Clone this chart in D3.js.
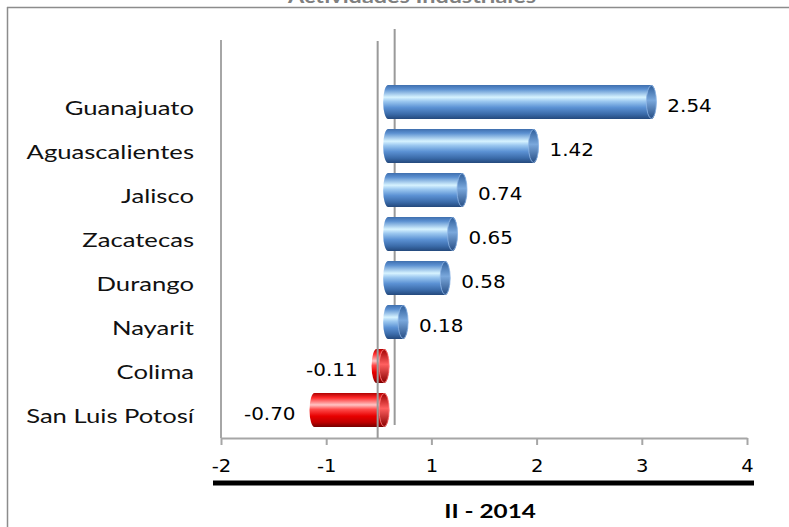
<!DOCTYPE html>
<html>
<head>
    <meta charset="utf-8">
    <script src="https://d3js.org/d3.v7.min.js"></script>
    <style>
        body {
            margin: 0;
            background: #ffffff;
        }
        .cat-label {
            font-family: 'Lato', sans-serif;
            font-size: 19px;
            fill: #111;
        }
        .val-label, .x-axis text {
            font-family: 'DejaVu Sans', sans-serif;
            font-size: 17px;
            fill: #000;
        }
        .val-label {
            font-size: 17.5px;
        }
        .period {
            font-family: 'Lato', sans-serif;
            font-weight: bold;
            font-size: 18px;
        }
    </style>
</head>
<body>
<div id="chart"></div>

<script>
// Data
const titleText = "Actividades Industriales";
const categories = ["Guanajuato", "Aguascalientes", "Jalisco", "Zacatecas", "Durango", "Nayarit", "Colima", "San Luis Potosí"];
const values = [2.54, 1.42, 0.74, 0.65, 0.58, 0.18, -0.11, -0.70];
const tickLabels = ["-2", "-1", "1", "2", "3", "4"];
const periodLabel = "II - 2014";

const data = categories.map((c, i) => ({ name: c, value: values[i] }));

const width = 789;
const height = 527;

const svg = d3.select("#chart")
    .append("svg")
    .attr("width", width)
    .attr("height", height);

// gradients for the cylinders
const defs = svg.append("defs");
const addGradient = (id, stops) => {
    const g = defs.append("linearGradient")
        .attr("id", id)
        .attr("x1", 0).attr("y1", 0)
        .attr("x2", 0).attr("y2", 1);
    stops.forEach(([o, c]) => g.append("stop").attr("offset", o).attr("stop-color", c));
};
addGradient("blueBody", [[0, "#3f6fae"], [0.12, "#5a8fd0"], [0.36, "#d7f3ff"], [0.48, "#9cc8f0"], [0.66, "#5c92d4"], [0.86, "#3a6aa8"], [1, "#24497c"]]);
addGradient("redBody", [[0, "#b00000"], [0.14, "#ff2a2a"], [0.35, "#ffc4c4"], [0.48, "#ff4a4a"], [0.68, "#e80000"], [0.86, "#c00000"], [1, "#760000"]]);
addGradient("blueCap", [[0, "#2f5f9c"], [0.45, "#7aa8dc"], [1, "#284f86"]]);
addGradient("redCap", [[0, "#a00000"], [0.45, "#ff6060"], [1, "#8a0000"]]);

// Scales
const x = d3.scaleLinear()
    .domain([-1.57, 3.43])
    .range([221, 747]);

const xTicks = d3.scalePoint()
    .domain(tickLabels)
    .range([221, 747]);

const y = d3.scaleBand()
    .domain(categories)
    .range([80, 432])
    .paddingInner(0.227)
    .paddingOuter(0.1135);

const fmt = v => (v < 0 ? "-" : "") + Math.abs(v).toFixed(2);

// frame
svg.append("line")
    .attr("x1", 7).attr("x2", width)
    .attr("y1", 7.5).attr("y2", 7.5)
    .attr("stroke", "#8c8c8c").attr("stroke-width", 1.5);
svg.append("line")
    .attr("x1", 7.5).attr("x2", 7.5)
    .attr("y1", 7).attr("y2", height)
    .attr("stroke", "#8c8c8c").attr("stroke-width", 1.5);

// title (cut off at the top, as in the original)
svg.append("text")
    .attr("class", "period")
    .attr("transform", `translate(412,2.5) scale(1.3,1)`)
    .attr("text-anchor", "middle")
    .attr("fill", "#7f7f7f")
    .text(titleText);

// plot walls
svg.append("line")
    .attr("x1", x.range()[0]).attr("x2", x.range()[0])
    .attr("y1", 40).attr("y2", 438)
    .attr("stroke", "#a6a6a6").attr("stroke-width", 2);

// zero plane, back edge
svg.append("line")
    .attr("x1", x(0) + 8.5).attr("x2", x(0) + 8.5)
    .attr("y1", 29).attr("y2", 425)
    .attr("stroke", "#9a9a9a").attr("stroke-width", 2);

// X axis
const xAxis = d3.axisBottom(xTicks)
    .tickSize(7)
    .tickSizeOuter(0)
    .tickPadding(15);

const gx = svg.append("g")
    .attr("class", "x-axis")
    .attr("transform", "translate(0,438)")
    .call(xAxis);
gx.select(".domain").attr("stroke", "#a6a6a6").attr("stroke-width", 2);
gx.selectAll(".tick line").attr("stroke", "#a6a6a6").attr("stroke-width", 2);
gx.selectAll(".tick text")
    .attr("transform", "scale(1.15,1)");

// Bars
const bw = y.bandwidth();
const bars = svg.append("g")
    .selectAll("g")
    .data(data)
    .join("g");

bars.append("rect")
    .attr("x", d => Math.min(x(0), x(d.value)) - 3)
    .attr("width", d => Math.abs(x(d.value) - x(0)) + 6)
    .attr("y", d => y(d.name))
    .attr("height", bw)
    .attr("rx", 5)
    .attr("ry", bw / 2)
    .attr("fill", d => d.value >= 0 ? "url(#blueBody)" : "url(#redBody)");

bars.append("ellipse")
    .attr("cx", d => Math.max(x(0), x(d.value)) - 2)
    .attr("cy", d => y(d.name) + bw / 2)
    .attr("rx", 5)
    .attr("ry", bw / 2 - 0.5)
    .attr("fill", d => d.value >= 0 ? "url(#blueCap)" : "url(#redCap)")
    .attr("stroke", d => d.value >= 0 ? "#8fb6e6" : "#ff8080")
    .attr("stroke-width", 0.8);

// zero plane, front edge
svg.append("line")
    .attr("x1", x(0) - 8.5).attr("x2", x(0) - 8.5)
    .attr("y1", 41).attr("y2", 438)
    .attr("stroke", "#9a9a9a").attr("stroke-width", 2);

// Value labels
svg.append("g")
    .selectAll("text")
    .data(data)
    .join("text")
    .attr("class", "val-label")
    .attr("text-anchor", d => d.value >= 0 ? "start" : "end")
    .attr("dominant-baseline", "central")
    .attr("transform", d => {
        const tx = d.value >= 0 ? x(d.value) + 14 : x(d.value) - 17;
        return `translate(${tx},${y(d.name) + bw / 2 + 4}) scale(1.14,1)`;
    })
    .text(d => fmt(d.value));

// Category labels
svg.append("g")
    .selectAll("text")
    .data(categories)
    .join("text")
    .attr("class", "cat-label")
    .attr("text-anchor", "end")
    .attr("dominant-baseline", "central")
    .attr("transform", d => `translate(194,${y(d) + bw / 2 + 6}) scale(1.35,1)`)
    .text(d => d);

// period bar and label
svg.append("line")
    .attr("x1", 213).attr("x2", 754)
    .attr("y1", 483).attr("y2", 483)
    .attr("stroke", "#000").attr("stroke-width", 5);

svg.append("text")
    .attr("class", "period")
    .attr("text-anchor", "middle")
    .attr("dominant-baseline", "central")
    .attr("transform", "translate(490,511) scale(1.35,1)")
    .text(periodLabel);
</script>
</body>
</html>
